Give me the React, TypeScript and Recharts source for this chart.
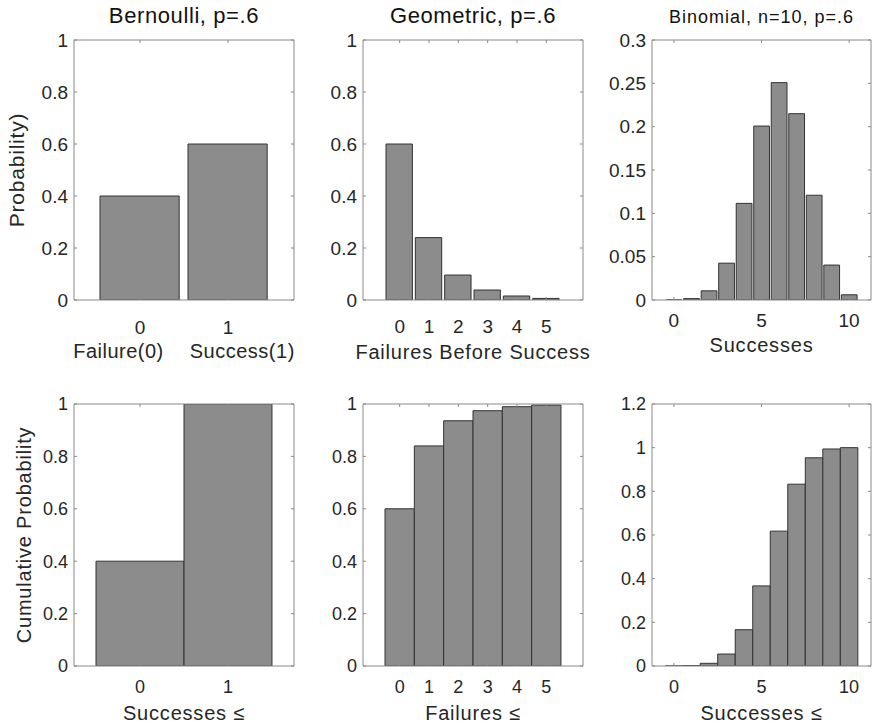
import React from 'react';
import { BarChart, Bar, XAxis, YAxis } from 'recharts';

// ---------- data ----------
const bernoulliX = [0, 1];
const bernoulliPmf = [0.4, 0.6];
const bernoulliCdf = [0.4, 1.0];
const bernoulliOutcomeNames = ['Failure(0)', 'Success(1)'];

const geometricX = [0, 1, 2, 3, 4, 5];
const geometricPmf = [0.6, 0.24, 0.096, 0.0384, 0.0154, 0.0061];
const geometricCdf = [0.6, 0.84, 0.936, 0.9744, 0.9898, 0.9959];

const binomialX = [0, 1, 2, 3, 4, 5, 6, 7, 8, 9, 10];
const binomialPmf = [0.0001, 0.0016, 0.0106, 0.0425, 0.1115, 0.2007, 0.2508, 0.215, 0.1209, 0.0403, 0.006];
const binomialCdf = [0.0001, 0.0017, 0.0123, 0.0548, 0.1662, 0.3669, 0.6177, 0.8327, 0.9536, 0.994, 1.0];

const probTicks = [0, 0.2, 0.4, 0.6, 0.8, 1];
const binomPmfTicks = [0, 0.05, 0.1, 0.15, 0.2, 0.25, 0.3];
const binomCdfTicks = [0, 0.2, 0.4, 0.6, 0.8, 1, 1.2];
const bernoulliXTicks = [0, 1];
const geometricXTicks = [0, 1, 2, 3, 4, 5];
const binomialXTicks = [0, 5, 10];

const titles = ['Bernoulli, p=.6', 'Geometric, p=.6', 'Binomial, n=10, p=.6'];
const xLabels = ['', 'Failures Before Success', 'Successes', 'Successes ≤', 'Failures ≤', 'Successes ≤'];
const yLabels = ['Probability)', 'Cumulative Probability'];

// ---------- styles ----------
const AXIS = '#8a8a8a';
const TEXT = '#262626';
const BAR_FILL = '#8c8c8c';
const BAR_EDGE = '#333333';
const FONT = '"Liberation Sans", Arial, Helvetica, sans-serif';

const toRows = (xs: number[], ys: number[]) => xs.map((x, i) => ({ x, y: ys[i] }));

type PanelProps = {
  left: number;
  top: number;
  plotW: number;
  plotH: number;
  padT: number;
  padB: number;
  padR: number;
  xs: number[];
  ys: number[];
  xDomain: [number, number];
  xTicks: number[];
  yDomain: [number, number];
  yTicks: number[];
  barUnits: number;
  tickFont: number;
  tickDy: number;
  title?: string;
  titleFont?: number;
  titleSpacing?: number;
  xLabel?: string;
  xLabelParts?: string[];
  xLabelGap?: number;
  xLabelDy?: number;
  xLabelFont?: number;
  yLabel?: string;
  yLabelX?: number;
  yLabelFont?: number;
};

const L = 74;

function Panel(p: PanelProps) {
  const data = toRows(p.xs, p.ys);
  const unitPx = p.plotW / (p.xDomain[1] - p.xDomain[0]);
  // slightly under one category band so Recharts does not fall back to 90% width
  const barSize = unitPx * p.barUnits - 0.02;

  const renderXTick = (t: any) => (
    <text x={t.x} y={t.y + p.tickDy} textAnchor="middle" fill={TEXT} fontSize={p.tickFont} fontFamily={FONT}>
      {String(t.payload.value)}
    </text>
  );

  const titleContent = (lp: any) => {
    const vb = lp.viewBox || {};
    if (!p.title) return null;
    return (
      <text x={vb.x + vb.width / 2} y={vb.y + vb.height - 17} textAnchor="middle" fill="#111" fontSize={p.titleFont} fontFamily={FONT} letterSpacing={p.titleSpacing || 0}>
        {p.title}
      </text>
    );
  };

  const xLabelContent = (lp: any) => {
    const vb = lp.viewBox || {};
    const cx = vb.x + vb.width / 2;
    const y = vb.y + (p.xLabelDy || 0);
    if (p.xLabelParts) {
      return (
        <text x={cx} y={y} textAnchor="middle" fill={TEXT} fontSize={p.xLabelFont} fontFamily={FONT} letterSpacing={0.5}>
          {p.xLabelParts.map((s, i) => (
            <tspan key={i} dx={i === 0 ? 0 : p.xLabelGap}>
              {s}
            </tspan>
          ))}
        </text>
      );
    }
    if (!p.xLabel) return null;
    return (
      <text x={cx} y={y} textAnchor="middle" fill={TEXT} fontSize={p.xLabelFont} fontFamily={FONT} letterSpacing={0.8}>
        {p.xLabel}
      </text>
    );
  };

  const yLabelContent = (lp: any) => {
    const vb = lp.viewBox || {};
    if (!p.yLabel) return null;
    const x = p.yLabelX || 0;
    const y = vb.y + vb.height / 2;
    return (
      <text x={x} y={y} transform={`rotate(-90, ${x}, ${y})`} textAnchor="middle" fill={TEXT} fontSize={p.yLabelFont} fontFamily={FONT} letterSpacing={0.8}>
        {p.yLabel}
      </text>
    );
  };

  return (
    <div style={{ position: 'absolute', left: p.left, top: p.top }}>
      <BarChart
        width={L + p.plotW + p.padR}
        height={p.padT + p.plotH + p.padB}
        data={data}
        margin={{ top: p.padT - 1, right: p.padR - 1, bottom: 0, left: 0 }}
        barCategoryGap={0}
        barGap={0}
      >
        <XAxis
          xAxisId="b"
          dataKey="x"
          type="number"
          orientation="bottom"
          domain={p.xDomain}
          ticks={p.xTicks}
          interval={0}
          allowDataOverflow
          height={p.padB}
          stroke={AXIS}
          tickSize={-3}
          tickMargin={3}
          tick={renderXTick}
          label={xLabelContent}
        />
        <XAxis
          xAxisId="t"
          dataKey="x"
          type="number"
          orientation="top"
          domain={p.xDomain}
          ticks={p.xTicks}
          interval={0}
          allowDataOverflow
          height={1}
          stroke={AXIS}
          tickSize={-3}
          tick={() => <g />}
          label={titleContent}
        />
        <YAxis
          yAxisId="l"
          type="number"
          domain={p.yDomain}
          ticks={p.yTicks}
          interval={0}
          allowDataOverflow
          width={L}
          stroke={AXIS}
          tickSize={-3}
          tickMargin={9}
          tick={{ fill: TEXT, fontSize: p.tickFont, fontFamily: FONT }}
          label={yLabelContent}
        />
        <YAxis
          yAxisId="r"
          orientation="right"
          type="number"
          domain={p.yDomain}
          ticks={p.yTicks}
          interval={0}
          allowDataOverflow
          width={1}
          stroke={AXIS}
          tickSize={-3}
          tick={() => <g />}
        />
        <Bar
          dataKey="y"
          xAxisId="b"
          yAxisId="l"
          fill={BAR_FILL}
          stroke={BAR_EDGE}
          strokeWidth={1}
          barSize={barSize}
          isAnimationActive={false}
        />
      </BarChart>
    </div>
  );
}

export default function App() {
  const top = { top: 0, padT: 40, plotH: 260, padB: 70, tickFont: 19 };
  const bot = { top: 370, padT: 34, plotH: 262, padB: 61, tickFont: 18, tickDy: 27, xLabelDy: 54, xLabelFont: 20 };
  return (
    <div
      style={{
        position: 'absolute',
        left: 0,
        top: 0,
        width: 872,
        height: 727,
        overflow: 'hidden',
        background: '#ffffff',
        fontFamily: FONT,
      }}
    >
      {/* top row: probability mass functions */}
      <Panel
        {...top}
        left={0}
        plotW={220}
        padR={15}
        xs={bernoulliX}
        ys={bernoulliPmf}
        xDomain={[-0.75, 1.75]}
        xTicks={bernoulliXTicks}
        yDomain={[0, 1]}
        yTicks={probTicks}
        barUnits={0.9}
        tickDy={34}
        title={titles[0]}
        titleFont={22}
        titleSpacing={0.6}
        xLabelParts={bernoulliOutcomeNames}
        xLabelGap={26}
        xLabelDy={58}
        xLabelFont={20}
        yLabel={yLabels[0]}
        yLabelX={24}
        yLabelFont={21}
      />
      <Panel
        {...top}
        left={289}
        plotW={220}
        padR={15}
        xs={geometricX}
        ys={geometricPmf}
        xDomain={[-1.25, 6.25]}
        xTicks={geometricXTicks}
        yDomain={[0, 1]}
        yTicks={probTicks}
        barUnits={0.9}
        tickDy={33}
        title={titles[1]}
        titleFont={22}
        titleSpacing={0.6}
        xLabel={xLabels[1]}
        xLabelDy={59}
        xLabelFont={20}
      />
      <Panel
        {...top}
        left={578}
        plotW={219}
        padR={1}
        xs={binomialX}
        ys={binomialPmf}
        xDomain={[-1.25, 11.25]}
        xTicks={binomialXTicks}
        yDomain={[0, 0.3]}
        yTicks={binomPmfTicks}
        barUnits={0.9}
        tickDy={27}
        title={titles[2]}
        titleFont={18}
        titleSpacing={1}
        xLabel={xLabels[2]}
        xLabelDy={52}
        xLabelFont={20}
      />

      {/* bottom row: cumulative distribution functions */}
      <Panel
        {...bot}
        left={0}
        plotW={220}
        padR={15}
        xs={bernoulliX}
        ys={bernoulliCdf}
        xDomain={[-0.75, 1.75]}
        xTicks={bernoulliXTicks}
        yDomain={[0, 1]}
        yTicks={probTicks}
        barUnits={1}
        xLabel={xLabels[3]}
        yLabel={yLabels[1]}
        yLabelX={31}
        yLabelFont={20}
      />
      <Panel
        {...bot}
        left={289}
        plotW={220}
        padR={15}
        xs={geometricX}
        ys={geometricCdf}
        xDomain={[-1.25, 6.25]}
        xTicks={geometricXTicks}
        yDomain={[0, 1]}
        yTicks={probTicks}
        barUnits={1}
        xLabel={xLabels[4]}
      />
      <Panel
        {...bot}
        left={578}
        plotW={219}
        padR={1}
        xs={binomialX}
        ys={binomialCdf}
        xDomain={[-1.25, 11.25]}
        xTicks={binomialXTicks}
        yDomain={[0, 1.2]}
        yTicks={binomCdfTicks}
        barUnits={1}
        xLabel={xLabels[5]}
      />
    </div>
  );
}
